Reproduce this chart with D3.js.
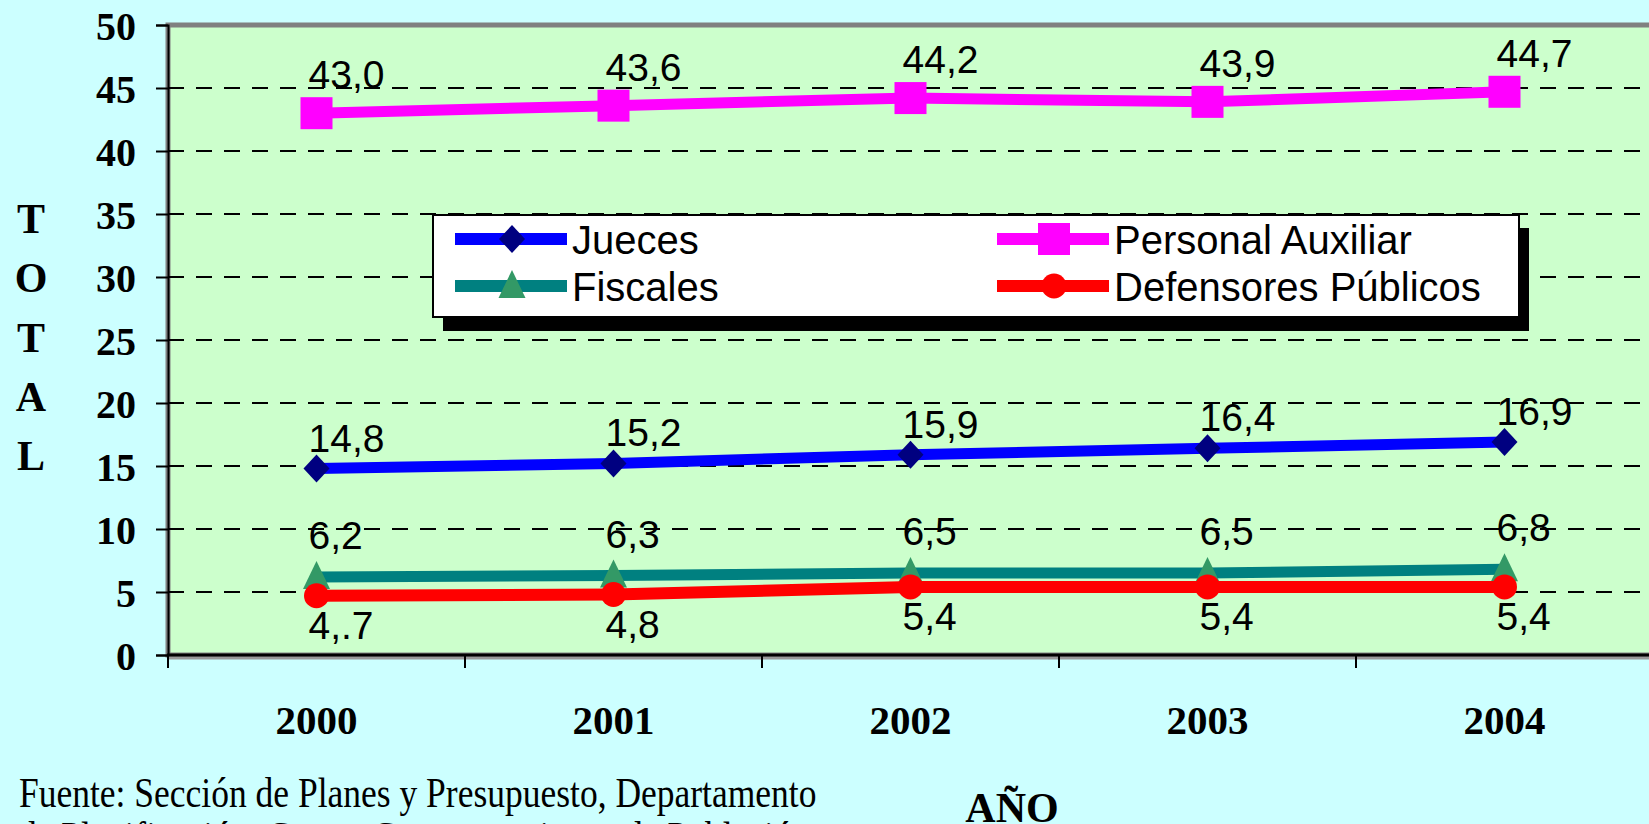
<!DOCTYPE html>
<html><head><meta charset="utf-8">
<script src="https://cdn.jsdelivr.net/npm/d3@7"></script>
<style>html,body{margin:0;padding:0;background:#CCFFFF;overflow:hidden}</style>
</head><body><svg id="c" width="1649" height="824"></svg>
<script>
const years = ["2000","2001","2002","2003","2004"];
const jueces = [14.8,15.2,15.9,16.4,16.9];
const personalAuxiliar = [43.0,43.6,44.2,43.9,44.7];
const fiscales = [6.2,6.3,6.5,6.5,6.8];
const defensoresPublicos = [4.7,4.8,5.4,5.4,5.4];
const defensoresLabels = ["4,.7","4,8","5,4","5,4","5,4"];
const yTicks = [0,5,10,15,20,25,30,35,40,45,50];
const seriesNames = ["Jueces","Personal Auxiliar","Fiscales","Defensores Públicos"];
const yTitleLetters = ["T","O","T","A","L"];
const xTitle = "AÑO";
const sourceLines = ["Fuente: Sección de Planes y Presupuesto, Departamento","de Planificación, Centro Centroamericano de Población"];

const fmt = v => d3.format(".1f")(v).replace(".", ",");
const svg = d3.select("#c");
const W = 1649, H = 824;
const L = 168, R = 1653, T = 25, B = 655;

svg.append("rect").attr("width", W).attr("height", H).attr("fill", "#CCFFFF");

const x = d3.scaleBand().domain(years).range([L, R]).padding(0);
const y = d3.scaleLinear().domain([0, 50]).range([B, T]);
const cx = d => x(d) + x.bandwidth() / 2;

// plot area
svg.append("rect").attr("x", L).attr("y", T).attr("width", W - L + 20).attr("height", B - T)
  .attr("fill", "#CCFFCC").attr("stroke", "#808080").attr("stroke-width", 5);

// gridlines
svg.append("g").selectAll("line").data(yTicks.filter(v => v > 0 && v < 50)).join("line")
  .attr("x1", L).attr("x2", W).attr("y1", d => y(d)).attr("y2", d => y(d))
  .attr("stroke", "#000").attr("stroke-width", 2).attr("stroke-dasharray", "16,12");

// y axis
const yAxis = svg.append("g").attr("transform", `translate(${L},0)`)
  .call(d3.axisLeft(y).tickValues(yTicks).tickSize(12).tickPadding(20).tickFormat(d3.format("d")));
yAxis.select(".domain").attr("stroke", "#000").attr("stroke-width", 2);
yAxis.selectAll(".tick line").attr("stroke", "#000").attr("stroke-width", 2);
yAxis.selectAll("text").attr("font-family", "'Liberation Serif','Times New Roman',serif")
  .attr("font-weight", "bold").attr("font-size", 40).attr("fill", "#000").attr("dy", "0.36em");

// x axis
const xAxis = svg.append("g").attr("transform", `translate(0,${B})`)
  .call(d3.axisBottom(x).tickSize(0).tickPadding(50));
xAxis.select(".domain").remove();
xAxis.append("line").attr("x1", L).attr("x2", W).attr("y1", 3).attr("y2", 3).attr("stroke", "#999").attr("stroke-width", 3);
xAxis.append("line").attr("x1", L - 1).attr("x2", W).attr("y1", 0).attr("y2", 0).attr("stroke", "#000").attr("stroke-width", 3);
xAxis.selectAll(".tick text").attr("font-family", "'Liberation Serif','Times New Roman',serif")
  .attr("font-weight", "bold").attr("font-size", 41).attr("fill", "#000");
xAxis.append("g").selectAll("line").data(years.concat(["end"])).join("line")
  .attr("x1", (d, i) => L + i * x.bandwidth()).attr("x2", (d, i) => L + i * x.bandwidth())
  .attr("y1", 0).attr("y2", 13).attr("stroke", "#000").attr("stroke-width", 2);

// series
const diamond = "M0,-14L13,0L0,14L-13,0Z";
const tri = "M0,-16L13.5,12L-13.5,12Z";
const series = [
  {name: seriesNames[0], vals: jueces, line: "#0000FF", mark: "#000080", w: 11, shape: "diamond", labels: jueces.map(fmt), dy: -17},
  {name: seriesNames[1], vals: personalAuxiliar, line: "#FF00FF", mark: "#FF00FF", w: 11, shape: "square", labels: personalAuxiliar.map(fmt), dy: -25},
  {name: seriesNames[2], vals: fiscales, line: "#008080", mark: "#339966", w: 11, shape: "triangle", labels: fiscales.map(fmt), dy: -28},
  {name: seriesNames[3], vals: defensoresPublicos, line: "#FF0000", mark: "#FF0000", w: 12, shape: "circle", labels: defensoresLabels, dy: 43}
];

function drawMarker(g, s, px, py) {
  if (s.shape === "diamond") g.append("path").attr("d", diamond).attr("transform", `translate(${px},${py})`).attr("fill", s.mark);
  else if (s.shape === "triangle") g.append("path").attr("d", tri).attr("transform", `translate(${px},${py})`).attr("fill", s.mark);
  else if (s.shape === "square") g.append("rect").attr("x", px - 16).attr("y", py - 16).attr("width", 32).attr("height", 32).attr("fill", s.mark);
  else g.append("circle").attr("cx", px).attr("cy", py).attr("r", 12.5).attr("fill", s.mark);
}

const line = d3.line().x(d => cx(d.year)).y(d => y(d.v));
series.forEach(s => {
  const pts = years.map((yr, i) => ({year: yr, v: s.vals[i]}));
  const g = svg.append("g");
  g.append("path").datum(pts).attr("d", line).attr("fill", "none").attr("stroke", s.line).attr("stroke-width", s.w);
  pts.forEach(p => drawMarker(g, s, cx(p.year), y(p.v)));
});

// data labels
series.forEach(s => {
  svg.append("g").selectAll("text").data(years).join("text")
    .attr("x", d => cx(d) - 8).attr("y", (d, i) => y(s.vals[i]) + s.dy)
    .attr("font-family", "'Liberation Sans',Arial,sans-serif").attr("font-size", 39).attr("fill", "#000")
    .text((d, i) => s.labels[i]);
});

// legend
const lg = svg.append("g");
lg.append("rect").attr("x", 443).attr("y", 228).attr("width", 1086).attr("height", 103).attr("fill", "#000");
lg.append("rect").attr("x", 433).attr("y", 215).attr("width", 1086).attr("height", 102).attr("fill", "#fff").attr("stroke", "#000").attr("stroke-width", 2);
const legPos = [[455, 239], [997, 239], [455, 286], [997, 286]];
series.forEach((s, i) => {
  const [lx, ly] = legPos[i];
  lg.append("line").attr("x1", lx).attr("x2", lx + 112).attr("y1", ly).attr("y2", ly).attr("stroke", s.line).attr("stroke-width", 12);
  drawMarker(lg, s, lx + 57, ly);
  lg.append("text").attr("x", lx + 117).attr("y", ly + 15)
    .attr("font-family", "'Liberation Sans',Arial,sans-serif").attr("font-size", 40).attr("fill", "#000").text(s.name);
});

// y title letters
svg.append("g").selectAll("text").data(yTitleLetters).join("text")
  .attr("x", 31).attr("y", (d, i) => 233 + i * 59.3).attr("text-anchor", "middle")
  .attr("font-family", "'Liberation Serif','Times New Roman',serif").attr("font-weight", "bold").attr("font-size", 42)
  .text(d => d);

// x title
svg.append("text").attr("x", 1012).attr("y", 822).attr("text-anchor", "middle")
  .attr("font-family", "'Liberation Serif','Times New Roman',serif").attr("font-weight", "bold").attr("font-size", 42)
  .text(xTitle);

// source
svg.append("g").selectAll("text").data(sourceLines).join("text")
  .attr("transform", (d, i) => `translate(19,${807 + i * 44}) scale(1,1.2)`)
  .attr("font-family", "'Liberation Serif','Times New Roman',serif").attr("font-size", 35.5)
  .text(d => d);
</script></body></html>
